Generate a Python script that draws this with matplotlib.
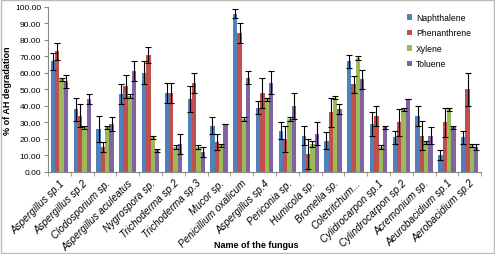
import matplotlib.pyplot as plt
import numpy as np

fungi = ['Aspergillus sp.1', 'Aspergillus sp.2', 'Clodosporium sp.', 'Aspergillus aculeatus',
         'Nygrospora sp.', 'Trichoderma sp.2', 'Trichoderma sp.3', 'Mucor sp.',
         'Penicillium oxalicum', 'Aspergillus sp.4', 'Periconia sp.', 'Humicola sp.',
         'Bromelia sp.', 'Coletritchum...', 'Cylidrocarpon sp.1', 'Cylindrocarpon sp.2',
         'Acremonium sp.', 'Aeurobacidium sp.1', 'Aerobacidium sp.2']

naphthalene = [67, 38, 26, 47, 60, 48, 44, 28, 96, 39, 25, 22, 19, 67, 29, 21, 34, 10, 21]
phenanthrene = [73, 34, 15, 52, 71, 48, 54, 18, 84, 48, 20, 11, 36, 53, 34, 30, 22, 30, 50]
xylene = [56, 27, 27, 46, 21, 15, 15, 16, 32, 44, 32, 17, 45, 69, 15, 38, 18, 38, 16]
toluene = [55, 44, 29, 61, 13, 17, 12, 29, 57, 54, 40, 23, 38, 56, 27, 44, 22, 27, 15]

err_naph = [5, 7, 8, 6, 7, 6, 8, 5, 3, 4, 5, 6, 5, 4, 7, 4, 6, 3, 4]
err_phen = [5, 7, 3, 7, 5, 6, 6, 5, 6, 9, 8, 9, 9, 5, 6, 8, 9, 9, 10]
err_xyl = [1, 1, 1, 1, 1, 1, 1, 1, 1, 1, 1, 2, 1, 1, 1, 1, 1, 1, 1]
err_tol = [4, 3, 4, 6, 1, 6, 3, 0, 4, 7, 8, 7, 3, 6, 1, 0, 5, 1, 2]

series = [('Naphthalene', naphthalene, err_naph, '#4F81BD'),
          ('Phenanthrene', phenanthrene, err_phen, '#C0504D'),
          ('Xylene', xylene, err_xyl, '#9BBB59'),
          ('Toluene', toluene, err_tol, '#8064A2')]

plt.rcParams['font.family'] = ['Liberation Sans', 'DejaVu Sans']

fig = plt.figure(figsize=(4.95, 2.55), dpi=100)
ax = fig.add_axes([0.097, 0.322, 0.875, 0.647])

x = np.arange(len(fungi))
w = 0.19
for i, (name, vals, errs, col) in enumerate(series):
    pos = x + (i - 1.5) * w
    ax.bar(pos, vals, width=w, color=col, label=name, zorder=2)
    ax.errorbar(pos, vals, yerr=errs, fmt='none', ecolor='black',
                elinewidth=0.8, capsize=2, capthick=0.8, zorder=3)

ax.set_xlim(-0.5, len(fungi) - 0.5)
ax.set_ylim(0, 100)
ax.set_yticks(np.arange(0, 101, 10))
ax.set_yticklabels(['%.2f' % v for v in np.arange(0, 101, 10)], fontsize=6)
ax.set_xticks(x)
ax.set_xticklabels(fungi, rotation=45, ha='right', rotation_mode='anchor',
                   fontsize=7.2, style='italic')
ax.tick_params(axis='x', length=0, pad=4)
ax.set_xticks(np.arange(-0.5, len(fungi), 1), minor=True)
ax.tick_params(axis='x', which='minor', length=3, color='#888888')
ax.tick_params(axis='y', length=3, color='#888888', pad=2)

for s in ['top', 'right']:
    ax.spines[s].set_visible(False)
for s in ['left', 'bottom']:
    ax.spines[s].set_color('#888888')

ax.set_ylabel('% of AH degradation', fontsize=6.5, fontweight='bold', labelpad=2)
ax.set_xlabel('Name of the fungus', fontsize=6.5, fontweight='bold')
ax.xaxis.set_label_coords(0.48, -0.41)

ax.legend(loc='upper right', bbox_to_anchor=(0.99, 1.0), frameon=False,
          fontsize=6.2, handlelength=0.6, handleheight=0.6, labelspacing=0.75,
          handletextpad=0.4, borderaxespad=0.3)

fig.patches.append(plt.Rectangle((0.002, 0.004), 0.996, 0.992, transform=fig.transFigure,
                                 fill=False, edgecolor='#BBBBBB', linewidth=1))

fig.savefig('out.png', dpi=100)
